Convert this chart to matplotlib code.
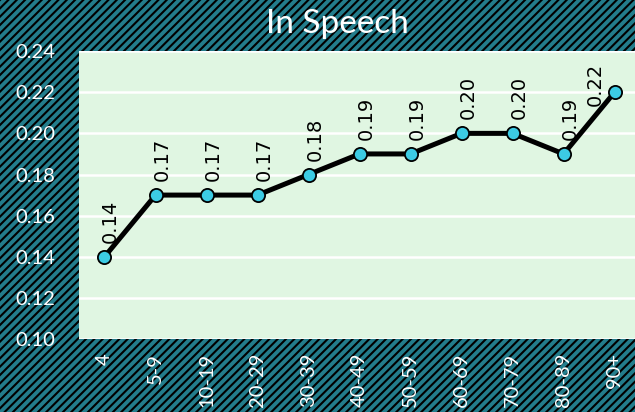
import matplotlib
matplotlib.use("Agg")
import matplotlib.pyplot as plt
from matplotlib.patches import Rectangle

plt.rcParams["font.family"] = ["Lato", "DejaVu Sans"]
plt.rcParams["hatch.linewidth"] = 1.5
plt.rcParams["hatch.color"] = "black"

age_groups = ["4", "5-9", "10-19", "20-29", "30-39", "40-49", "50-59",
              "60-69", "70-79", "80-89", "90+"]
in_speech = [0.14, 0.17, 0.17, 0.17, 0.18, 0.19, 0.19, 0.20, 0.20, 0.19, 0.22]

teal = "#237d8c"
fig = plt.figure(figsize=(6.35, 4.12), dpi=100)
fig.patch.set_facecolor(teal)
fig.patches.append(Rectangle((0, 0), 1, 1, transform=fig.transFigure,
                             facecolor=teal, edgecolor="black", hatch="////",
                             linewidth=0, zorder=-10))

ax = fig.add_axes([0.1244, 0.177, 0.8756, 0.699])
ax.set_facecolor("#e0f6e2")
x = list(range(len(age_groups)))
ax.plot(x, in_speech, color="black", linewidth=3.6, marker="o", markersize=9.5,
        markerfacecolor="#3ccbe4", markeredgecolor="black", markeredgewidth=1.3,
        zorder=3)
for xi, v in zip(x, in_speech):
    if xi == len(x) - 1:
        # last label is pushed left so it stays inside the plot
        ax.annotate(f"{v:.2f}", (xi, v), xytext=(-14, 21), textcoords="offset points",
                    rotation=90, ha="center", va="top", fontsize=14, color="black",
                    family=["DejaVu Sans"])
    else:
        ax.annotate(f"{v:.2f}", (xi, v), xytext=(4.5, 10), textcoords="offset points",
                    rotation=90, ha="center", va="bottom", fontsize=14,
                    color="black", family=["DejaVu Sans"])

ax.set_xlim(-0.5, 10.4)
ax.set_ylim(0.10, 0.24)
ax.set_yticks([0.10, 0.12, 0.14, 0.16, 0.18, 0.20, 0.22, 0.24])
ax.set_yticklabels([f"{t:.2f}" for t in ax.get_yticks()])
ax.set_xticks(x)
ax.set_xticklabels(age_groups, rotation=90)
ax.tick_params(colors="white", labelsize=14.5, length=0, pad=10)
ax.tick_params(axis="y", pad=17)
ax.grid(axis="y", color="white", linewidth=1.8)
ax.set_axisbelow(True)
for s in ax.spines.values():
    s.set_visible(False)

fig.text(337 / 635, 1 - 24 / 412, "In Speech", color="white", fontsize=24,
         ha="center", va="center")

fig.savefig("out.png", dpi=100, facecolor=fig.get_facecolor())
